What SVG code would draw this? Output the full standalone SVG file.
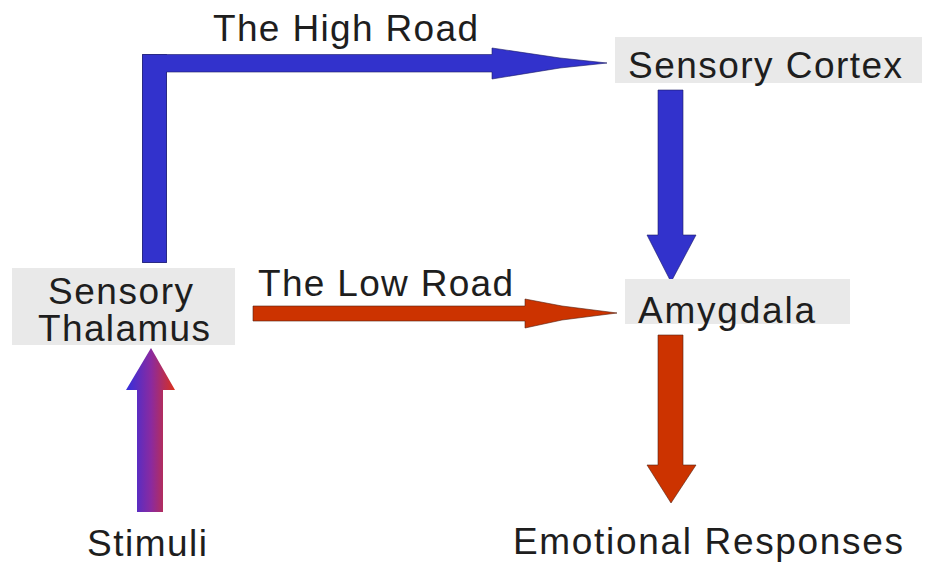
<svg xmlns="http://www.w3.org/2000/svg" width="926" height="563" viewBox="0 0 926 563">
<style>
.box{fill:#e9e9e9}
.lbl{font-family:"Liberation Sans",Arial,sans-serif;font-size:37px;fill:#1e1e1e}
.blue{fill:#3232cc;stroke:#1a1a66;stroke-width:1;stroke-opacity:0.6}
.red{fill:#cc3300;stroke:#552211;stroke-width:1;stroke-opacity:0.6}
</style>
<defs>
<linearGradient id="grad" gradientUnits="userSpaceOnUse" x1="128" y1="0" x2="174" y2="0">
<stop offset="0" stop-color="#3a2fd8"/>
<stop offset="0.5" stop-color="#8a2aa0"/>
<stop offset="1" stop-color="#d83020"/>
</linearGradient>
</defs>
<rect width="926" height="563" fill="#ffffff"/>
<g id="connectors">
<g id="high-road">
<rect class="blue" x="142.5" y="54.5" width="24" height="208"/>
<polygon class="blue" points="142.5,54.5 492,54.5 492,48 560,58 607,63 560,68 492,79 492,72 166.5,72 166.5,262.5 142.5,262.5"/>
</g>
<polygon id="low-road" class="red" points="253,306 525,306 525,299 562,306 617,313 562,320 525,328 525,321 253,321"/>
<polygon id="cortex-to-amygdala" class="blue" points="658,90 683,90 683,235 696,235 671,282 647,235 658,235"/>
<polygon id="amygdala-to-responses" class="red" points="658,335 683,335 683,465 696,465 671,503 647,465 658,465"/>
<polygon id="stimuli-to-thalamus" fill="url(#grad)" points="137,512 163,512 163,390 175,390 151,348 126,390 137,390"/>
<text class="lbl" x="213" y="41" textLength="265" lengthAdjust="spacing">The High Road</text>
<text class="lbl" x="258" y="296" textLength="255" lengthAdjust="spacing">The Low Road</text>
</g>
<g id="sensory-cortex">
<rect class="box" x="615" y="37" width="307" height="46"/>
<text class="lbl" x="628" y="78" textLength="274" lengthAdjust="spacing">Sensory Cortex</text>
</g>
<g id="amygdala">
<rect class="box" x="625" y="279" width="225" height="45"/>
<text class="lbl" x="638" y="323" textLength="177" lengthAdjust="spacing">Amygdala</text>
</g>
<g id="sensory-thalamus">
<rect class="box" x="12" y="268" width="223" height="77"/>
<text class="lbl" x="48" y="304" textLength="145" lengthAdjust="spacing">Sensory</text>
<text class="lbl" x="38" y="341" textLength="172" lengthAdjust="spacing">Thalamus</text>
</g>
<g id="stimuli">
<text class="lbl" x="87" y="556" textLength="120" lengthAdjust="spacing">Stimuli</text>
</g>
<g id="emotional-responses">
<text class="lbl" x="513" y="554" textLength="390" lengthAdjust="spacing">Emotional Responses</text>
</g>
</svg>
